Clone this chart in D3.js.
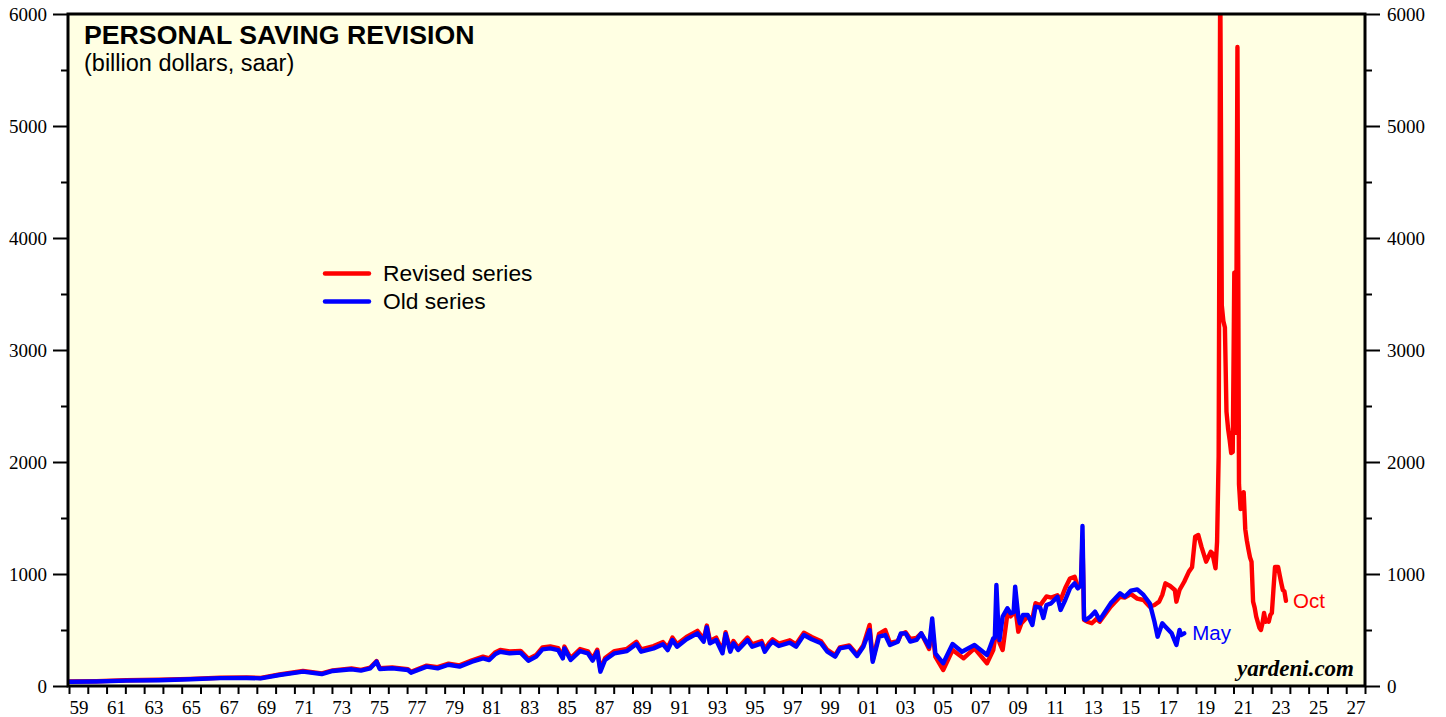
<!DOCTYPE html>
<html><head><meta charset="utf-8">
<script src="https://cdn.jsdelivr.net/npm/d3@7"></script>
<style>
html,body{margin:0;padding:0;background:#fff;}
svg{display:block;}
</style></head><body>
<svg id="chart" width="1446" height="717"></svg>
<script>
// ---------------- DATA ----------------
const yearTicks = d3.range(1959, 2029);            // tick marks at start of each year
const yearLabels = d3.range(1959, 2028, 2);        // labelled years: 59, 61, ... 27
const yMajorTicks = [0, 1000, 2000, 3000, 4000, 5000, 6000];
const yMinorTicks = [500, 1500, 2500, 3500, 4500, 5500];

const titleText = "PERSONAL SAVING REVISION";
const subtitleText = "(billion dollars, saar)";
const seriesNames = ["Revised series", "Old series"];
const endLabels = ["Oct", "May"];

const revisedDates = [
"1959-01","1960-06","1962-01","1963-10","1965-06","1967-01","1968-06","1969-03","1970-03","1971-06",
"1972-06","1973-01","1974-01","1974-07","1975-01","1975-05","1975-07","1976-03","1977-01","1977-03",
"1978-01","1978-08","1979-03","1979-10","1980-06","1981-01","1981-05","1981-09","1981-12","1982-06",
"1983-01","1983-06","1983-11","1984-03","1984-08","1985-01","1985-04","1985-05","1985-09","1986-03",
"1986-08","1986-11","1987-02","1987-04","1987-07","1988-01","1988-09","1989-03","1989-06","1990-02",
"1990-08","1990-11","1991-02","1991-05","1991-11","1992-06","1992-10","1992-12","1993-02","1993-06",
"1993-10","1993-12","1994-03","1994-05","1994-08","1995-02","1995-05","1995-11","1996-01","1996-04",
"1996-06","1996-10","1997-05","1997-09","1998-02","1998-07","1999-01","1999-05","1999-10","2000-01",
"2000-07","2000-12","2001-04","2001-08","2001-10","2002-02","2002-06","2002-09","2003-02","2003-04",
"2003-07","2003-10","2004-02","2004-05","2004-10","2004-12","2005-02","2005-07","2006-01","2006-08",
"2007-03","2007-11","2008-03","2008-04","2008-05","2008-06","2008-07","2008-09","2008-12","2009-02",
"2009-04","2009-05","2009-07","2009-09","2010-01","2010-04","2010-06","2010-09","2011-01","2011-04",
"2011-08","2011-10","2012-01","2012-04","2012-07","2012-09","2012-11","2012-12","2013-01","2013-03",
"2013-06","2013-09","2013-11","2014-06","2014-12","2015-03","2015-07","2015-11","2016-03","2016-07",
"2016-10","2017-01","2017-03","2017-05","2017-08","2017-11","2017-12","2018-02","2018-05","2018-08",
"2018-10","2018-12","2019-02","2019-04","2019-07","2019-10","2019-11","2020-01","2020-02","2020-03",
"2020-04","2020-05","2020-06","2020-07","2020-08","2020-09","2020-10","2020-11","2020-12","2021-01",
"2021-02","2021-03","2021-04","2021-05","2021-06","2021-07","2021-08","2021-09","2021-10","2021-11",
"2021-12","2022-01","2022-02","2022-03","2022-04","2022-05","2022-06","2022-07","2022-08","2022-09",
"2022-10","2022-11","2022-12","2023-01","2023-02","2023-03","2023-04","2023-05","2023-06","2023-07",
"2023-08","2023-09","2023-10"];
const revisedValues = [
40,43,51,56,64,74,77,72,103,134,
113,140,156,144,165,222,160,166,151,127,
182,168,200,184,230,262,247,302,322,308,
314,242,278,344,353,338,264,352,250,330,
310,244,324,148,250,312,332,395,326,356,
392,342,432,372,438,492,418,540,402,432,
314,480,328,402,342,432,372,402,328,388,
418,378,408,372,476,438,400,322,275,345,
362,282,365,545,232,465,500,385,400,460,
480,420,430,470,330,520,262,143,321,247,
336,203,321,411,560,450,385,321,640,620,
650,708,485,560,620,600,740,720,800,790,
810,768,875,960,976,880,900,1300,590,574,
560,600,574,708,797,790,820,780,768,708,
723,753,813,917,893,857,753,857,931,1021,
1060,1333,1348,1244,1110,1199,1185,1051,1290,2050,
6400,3400,3260,3200,2450,2300,2200,2080,2090,3690,
2260,5705,1800,1580,1700,1730,1400,1300,1223,1150,
1110,753,700,619,570,520,500,560,652,574,
580,574,634,652,860,1062,1062,1062,990,920,
857,845,760];

const oldDates = [
"1959-01","1960-06","1962-01","1963-10","1965-06","1967-01","1968-06","1969-03","1970-03","1971-06",
"1972-06","1973-01","1974-01","1974-07","1975-01","1975-05","1975-07","1976-03","1977-01","1977-03",
"1978-01","1978-08","1979-03","1979-10","1980-06","1981-01","1981-05","1981-09","1981-12","1982-06",
"1983-01","1983-06","1983-11","1984-03","1984-08","1985-01","1985-04","1985-05","1985-09","1986-03",
"1986-08","1986-11","1987-02","1987-04","1987-07","1988-01","1988-09","1989-03","1989-06","1990-02",
"1990-08","1990-11","1991-02","1991-05","1991-11","1992-06","1992-10","1992-12","1993-02","1993-06",
"1993-10","1993-12","1994-03","1994-05","1994-08","1995-02","1995-05","1995-11","1996-01","1996-04",
"1996-06","1996-10","1997-05","1997-09","1998-02","1998-07","1999-01","1999-05","1999-10","2000-01",
"2000-07","2000-12","2001-04","2001-08","2001-10","2002-02","2002-06","2002-09","2003-02","2003-04",
"2003-07","2003-10","2004-02","2004-05","2004-10","2004-12","2005-02","2005-07","2006-01","2006-07",
"2007-03","2007-11","2008-01","2008-03","2008-04","2008-05","2008-06","2008-07","2008-09","2008-12",
"2009-02","2009-04","2009-05","2009-07","2009-08","2009-10","2010-01","2010-04","2010-06","2010-09",
"2010-11","2011-01","2011-04","2011-08","2011-10","2012-01","2012-04","2012-07","2012-09","2012-11",
"2012-12","2013-01","2013-02","2013-05","2013-08","2013-11","2014-06","2014-12","2015-03","2015-07",
"2015-11","2016-03","2016-07","2016-10","2016-12","2017-03","2017-05","2017-09","2017-12","2018-02",
"2018-03","2018-05"];
const oldValues = [
38,40,48,52,60,70,72,68,98,128,
107,134,149,137,158,217,152,158,143,119,
173,158,190,173,217,247,232,286,306,292,
298,226,262,327,336,321,247,336,232,312,
292,226,306,128,232,292,312,375,306,336,
372,321,411,351,417,470,396,524,381,411,
292,464,306,381,321,411,351,381,306,366,
396,357,387,351,455,417,381,306,262,336,
351,268,351,500,217,440,455,366,396,470,
470,396,411,470,351,604,292,203,375,306,
366,277,351,426,430,902,600,411,619,694,
649,660,887,619,560,634,634,545,708,700,
607,723,738,797,679,768,872,917,872,900,
1428,600,589,619,664,589,738,827,797,851,
863,813,738,574,440,560,530,470,366,500,
455,470];

// ---------------- LAYOUT ----------------
const plot = {left: 68, right: 1365, top: 14, bottom: 686};
const bg = "#ffffe3";
const serif = "'Liberation Serif','Times New Roman',serif";
const sans = "'Liberation Sans',Arial,Helvetica,sans-serif";

const svg = d3.select("#chart");
const x = d3.scaleLinear().domain([1959, 2028]).range([plot.left + 1, plot.right]);
const y = d3.scaleLinear().domain([0, 6000]).range([plot.bottom, plot.top]);

function toYear(s) {
  const [yy, mm] = s.split("-").map(Number);
  return yy + (mm - 0.5) / 12;
}
const revised = revisedDates.map((d, i) => ({t: toYear(d), v: revisedValues[i]}));
const old = oldDates.map((d, i) => ({t: toYear(d), v: oldValues[i]}));

// background
svg.append("rect").attr("x", plot.left).attr("y", plot.top)
  .attr("width", plot.right - plot.left).attr("height", plot.bottom - plot.top)
  .attr("fill", bg);

svg.append("clipPath").attr("id", "clip").append("rect")
  .attr("x", plot.left).attr("y", plot.top)
  .attr("width", plot.right - plot.left).attr("height", plot.bottom - plot.top);

// title
svg.append("text").attr("x", 84).attr("y", 44)
  .attr("font-family", sans).attr("font-weight", "bold").attr("font-size", 26.7)
  .attr("fill", "#000").text(titleText);
svg.append("text").attr("x", 84).attr("y", 71)
  .attr("font-family", sans).attr("font-size", 23.5)
  .attr("fill", "#000").text(subtitleText);

// lines
const line = d3.line().x(d => x(d.t)).y(d => y(d.v)).curve(d3.curveLinear);
const g = svg.append("g").attr("clip-path", "url(#clip)");
g.append("path").datum(revised).attr("d", line)
  .attr("fill", "none").attr("stroke", "#ff0000").attr("stroke-width", 4.4)
  .attr("stroke-linejoin", "round").attr("stroke-linecap", "round");
g.append("path").datum(old).attr("d", line)
  .attr("fill", "none").attr("stroke", "#0000ff").attr("stroke-width", 4.4)
  .attr("stroke-linejoin", "round").attr("stroke-linecap", "round");

// end labels
const lastR = revised[revised.length - 1], lastO = old[old.length - 1];
svg.append("text").attr("x", x(lastR.t) + 7).attr("y", y(lastR.v) + 7)
  .attr("font-family", sans).attr("font-size", 20.5).attr("fill", "#ff0000").text(endLabels[0]);
svg.append("text").attr("x", x(lastO.t) + 8).attr("y", y(lastO.v) + 7)
  .attr("font-family", sans).attr("font-size", 20.5).attr("fill", "#0000ff").text(endLabels[1]);

// legend
const legendColors = ["#ff0000", "#0000ff"];
const legendY = [273.5, 301.5];
seriesNames.forEach((name, i) => {
  svg.append("line").attr("x1", 325).attr("x2", 369).attr("y1", legendY[i]).attr("y2", legendY[i])
    .attr("stroke", legendColors[i]).attr("stroke-width", 4.4).attr("stroke-linecap", "round");
  svg.append("text").attr("x", 383).attr("y", legendY[i] + 7.5)
    .attr("font-family", sans).attr("font-size", 22.8).attr("fill", "#000").text(name);
});

// watermark
svg.append("text").attr("x", 1354).attr("y", 676).attr("text-anchor", "end")
  .attr("font-family", serif).attr("font-weight", "bold").attr("font-style", "italic")
  .attr("font-size", 23).attr("fill", "#000").text("yardeni.com");

// axes
function styleAxis(sel) {
  sel.select(".domain").remove();
  sel.selectAll(".tick line").attr("stroke", "#000").attr("stroke-width", 2);
  sel.selectAll(".tick text").attr("font-family", serif).attr("font-size", 19).attr("fill", "#000");
}
svg.append("g").attr("transform", `translate(${plot.left},0)`)
  .call(d3.axisLeft(y).tickValues(yMajorTicks).tickSize(15).tickPadding(6).tickFormat(d3.format("d")))
  .call(styleAxis);
svg.append("g").attr("transform", `translate(${plot.left},0)`)
  .call(d3.axisLeft(y).tickValues(yMinorTicks).tickSize(7).tickFormat(""))
  .call(styleAxis);
svg.append("g").attr("transform", `translate(${plot.right},0)`)
  .call(d3.axisRight(y).tickValues(yMajorTicks).tickSize(15).tickPadding(7).tickFormat(d3.format("d")))
  .call(styleAxis);
svg.append("g").attr("transform", `translate(${plot.right},0)`)
  .call(d3.axisRight(y).tickValues(yMinorTicks).tickSize(7).tickFormat(""))
  .call(styleAxis);
svg.append("g").attr("transform", `translate(0,${plot.bottom})`)
  .call(d3.axisBottom(x).tickValues(yearTicks).tickSize(8).tickFormat(""))
  .call(styleAxis);
svg.append("g").attr("transform", `translate(0,${plot.bottom})`)
  .call(d3.axisBottom(x).tickValues(yearLabels.map(d => d + 0.5)).tickSize(0).tickPadding(14.5)
    .tickFormat(d => String(Math.floor(d) % 100).padStart(2, "0")))
  .call(styleAxis);

// frame
svg.append("rect").attr("x", plot.left).attr("y", plot.top)
  .attr("width", plot.right - plot.left).attr("height", plot.bottom - plot.top)
  .attr("fill", "none").attr("stroke", "#000").attr("stroke-width", 3);
</script>
</body></html>
